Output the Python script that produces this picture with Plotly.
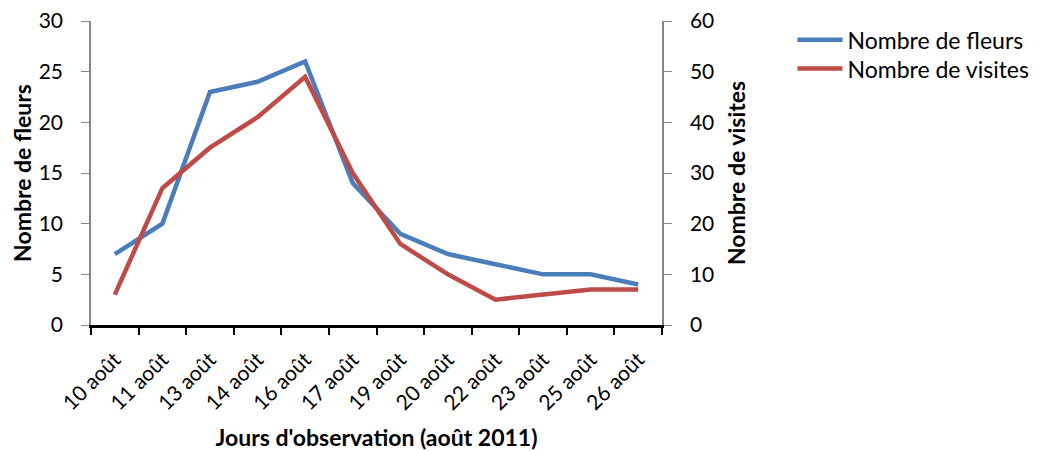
import plotly.graph_objects as go

jours = ["10 août", "11 août", "13 août", "14 août", "16 août", "17 août",
         "19 août", "20 août", "22 août", "23 août", "25 août", "26 août"]
fleurs = [7, 10, 23, 24, 26, 14, 9, 7, 6, 5, 5, 4]
visites = [6, 27, 35, 41, 49, 30, 16, 10, 5, 6, 7, 7]

FONT = "Lato, Open Sans, sans-serif"

fig = go.Figure()
fig.add_trace(go.Scatter(x=jours, y=fleurs, mode="lines", name="Nombre de fleurs",
                         line=dict(color="#4a7ebb", width=4.5), yaxis="y", legend="legend"))
fig.add_trace(go.Scatter(x=jours, y=visites, mode="lines", name="Nombre de visites",
                         line=dict(color="#be4b48", width=4.5), yaxis="y2", legend="legend2"))

legend_common = dict(xanchor="left", yanchor="middle", font=dict(size=23),
                     itemwidth=45, bgcolor="rgba(0,0,0,0)", borderwidth=0)

fig.update_layout(
    width=1037, height=443,
    margin=dict(l=83, r=376, t=10, b=126),
    paper_bgcolor="white", plot_bgcolor="white",
    font=dict(family=FONT, size=21, color="black"),
    showlegend=True,
    legend=dict(x=1.2285, y=0.9385, **legend_common),
    legend2=dict(x=1.2285, y=0.8435, **legend_common),
    xaxis=dict(type="category", range=[-0.5, 11.5], tickangle=-45, automargin=False,
               showline=True, linecolor="black", linewidth=3,
               ticks="outside", tickson="boundaries", ticklen=7, tickcolor="black", tickwidth=2,
               ticklabelstandoff=11, ticklabeloverflow="allow",
               showgrid=False, zeroline=False,
               tickfont=dict(size=21),
               title=dict(text="<b>Jours d'observation (août 2011)</b>", font=dict(size=23), standoff=19)),
    yaxis=dict(range=[0, 30], dtick=5, showline=True, linecolor="#868686", linewidth=1.5,
               automargin=False, ticklabelstandoff=14, ticklabeloverflow="allow",
               ticks="outside", ticklen=8, tickcolor="#868686", showgrid=False, zeroline=False,
               tickfont=dict(size=21),
               title=dict(text="<b>Nombre de fleurs</b>", font=dict(size=23), standoff=4)),
    yaxis2=dict(range=[0, 60], dtick=10, overlaying="y", side="right", anchor="x",
                automargin=False, ticklabelstandoff=14, ticklabeloverflow="allow",
                showline=True, linecolor="#868686", linewidth=1.5,
                ticks="outside", ticklen=8, tickcolor="#868686", showgrid=False, zeroline=False,
                tickfont=dict(size=21),
                title=dict(text="<b>Nombre de visites</b>", font=dict(size=23), standoff=16)),
)

fig.write_html("out.html")
